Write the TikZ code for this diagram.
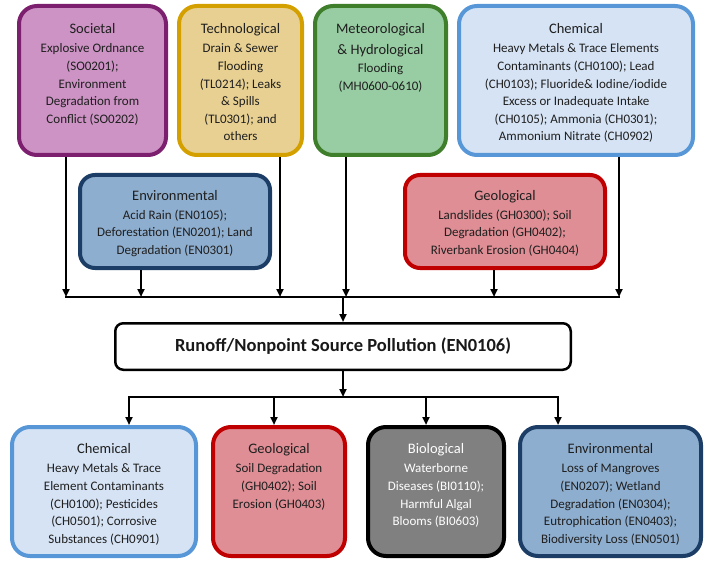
\documentclass[tikz,border=0pt]{standalone}
\usepackage{fontspec}
\setmainfont{Carlito}
\usepackage{tikz}
\usetikzlibrary{positioning, arrows.meta}

\definecolor{socfill}{HTML}{CC93C4}
\definecolor{socline}{HTML}{7D1F6F}
\definecolor{techfill}{HTML}{E8D092}
\definecolor{techline}{HTML}{D4A000}
\definecolor{metfill}{HTML}{98CCA2}
\definecolor{metline}{HTML}{3F7E2A}
\definecolor{chemfill}{HTML}{D5E3F4}
\definecolor{chemline}{HTML}{5797D7}
\definecolor{envfill}{HTML}{8EAECF}
\definecolor{envline}{HTML}{1C3E66}
\definecolor{geofill}{HTML}{DE8E94}
\definecolor{geoline}{HTML}{C00000}
\definecolor{biofill}{HTML}{808080}

\newcommand{\grouphead}[1]{{\fontsize{14.5}{17.6}\selectfont #1}}

\begin{document}
\begin{tikzpicture}[
    x=1pt, y=-1pt,
    >={Triangle[length=8pt, width=7pt]},
    box/.style={
        rectangle,
        rounded corners=18pt,
        line width=4pt,
        inner sep=0pt
    },
    socbox/.style={box, draw=socline, fill=socfill},
    techbox/.style={box, draw=techline, fill=techfill},
    metbox/.style={box, draw=metline, fill=metfill},
    chembox/.style={box, draw=chemline, fill=chemfill},
    envbox/.style={box, draw=envline, fill=envfill},
    geobox/.style={box, draw=geoline, fill=geofill},
    biobox/.style={box, draw=black, fill=biofill},
    txt/.style={
        inner sep=0pt,
        align=center,
        text=black!88,
        font=\fontsize{13}{17.6}\selectfont
    },
    line/.style={line width=2pt, draw=black},
    arrow/.style={->, line/.try, line width=2pt}
]
\useasboundingbox (0,0) rectangle (714,564);

% top row
\node[socbox, minimum width=147pt, minimum height=149pt] (soc) at (92.5,80.5) {};
\node[txt, below=19.5pt of soc.north] (soc-t) {\grouphead{Societal}\\[1.5pt]
    Explosive Ordnance\\ (SO0201);\\ Environment\\ Degradation from\\ Conflict (SO0202)};

\node[techbox, minimum width=123pt, minimum height=149pt] (tech) at (240.5,80.5) {};
\node[txt, below=19.5pt of tech.north] (tech-t) {\grouphead{Technological}\\[1.5pt]
    Drain \& Sewer\\ Flooding\\ (TL0214); Leaks\\ \& Spills\\ (TL0301); and\\ others};

\node[metbox, minimum width=131pt, minimum height=149pt] (met) at (380.5,80.5) {};
\node[txt, below=19.5pt of met.north] (met-t) {\grouphead{Meteorological}\\[3pt]
    \grouphead{\& Hydrological}\\[1pt] Flooding\\ (MH0600-0610)};

\node[chembox, minimum width=234pt, minimum height=149pt] (chemtop) at (576,80.5) {};
\node[txt, below=19.5pt of chemtop.north] (chemtop-t) {\grouphead{Chemical}\\[1.5pt]
    Heavy Metals \& Trace Elements\\ Contaminants (CH0100); Lead\\
    (CH0103); Fluoride\& Iodine/iodide\\ Excess or Inadequate Intake\\
    (CH0105); Ammonia (CH0301);\\ Ammonium Nitrate (CH0902)};

% middle row
\node[envbox, rounded corners=15pt, minimum width=190pt, minimum height=93pt] (envmid) at (175,221.5) {};
\node[txt, below=17.5pt of envmid.north] (envmid-t) {\grouphead{Environmental}\\[1pt]
    Acid Rain (EN0105);\\ Deforestation (EN0201); Land\\ Degradation (EN0301)};

\node[geobox, rounded corners=15pt, minimum width=200pt, minimum height=93pt] (geomid) at (505,221.5) {};
\node[txt, below=17.5pt of geomid.north] (geomid-t) {\grouphead{Geological}\\[1pt]
    Landslides (GH0300); Soil\\ Degradation (GH0402);\\ Riverbank Erosion (GH0404)};

% centre
\node[rectangle, rounded corners=8pt, draw=black, line width=2.5pt, fill=white,
      minimum width=455.5pt, minimum height=46.5pt,
      font=\fontsize{18.5}{22}\selectfont\bfseries, text=black!90] (runoff) at (343,346.5)
      {Runoff/Nonpoint Source Pollution (EN0106)};

% bottom row
\node[chembox, minimum width=184pt, minimum height=129pt] (chembot) at (104,491.5) {};
\node[txt, below=18.5pt of chembot.north] (chembot-t) {\grouphead{Chemical}\\[1.5pt]
    Heavy Metals \& Trace\\ Element Contaminants\\ (CH0100); Pesticides\\
    (CH0501); Corrosive\\ Substances (CH0901)};

\node[geobox, minimum width=132pt, minimum height=129pt] (geobot) at (279,491.5) {};
\node[txt, below=18.5pt of geobot.north] (geobot-t) {\grouphead{Geological}\\[1.5pt]
    Soil Degradation\\ (GH0402); Soil\\ Erosion (GH0403)};

\node[biobox, minimum width=136pt, minimum height=129pt] (bio) at (436,491.5) {};
\node[txt, text=white, below=18.5pt of bio.north] (bio-t) {\grouphead{Biological}\\[1.5pt]
    Waterborne\\ Diseases (BI0110);\\ Harmful Algal\\ Blooms (BI0603)};

\node[envbox, minimum width=181pt, minimum height=129pt] (envbot) at (610.5,491.5) {};
\node[txt, below=18.5pt of envbot.north] (envbot-t) {\grouphead{Environmental}\\[1.5pt]
    Loss of Mangroves\\ (EN0207); Wetland\\ Degradation (EN0304);\\
    Eutrophication (EN0403);\\ Biodiversity Loss (EN0501)};

% feet of the arrows on the two bars
\coordinate (t1) at (66,297);
\coordinate (t2) at (141,297);
\coordinate (t3) at (280,297);
\coordinate (t4) at (346,297);
\coordinate (t5) at (494,297);
\coordinate (t6) at (619,297);
\coordinate (b1) at (129,397);
\coordinate (b2) at (274,397);
\coordinate (b3) at (426,397);
\coordinate (b4) at (558,397);

\draw[arrow] (soc.south -| t1) -- (t1);
\draw[arrow] (envmid.south -| t2) -- (t2);
\draw[arrow] (tech.south -| t3) -- (t3);
\draw[arrow] (met.south -| t4) -- (t4);
\draw[arrow] (geomid.south -| t5) -- (t5);
\draw[arrow] (chemtop.south -| t6) -- (t6);
\draw[line] ([xshift=-1pt]t1) -- ([xshift=1pt]t6);
\draw[arrow] (runoff.north |- t1) -- (runoff.north);

\draw[arrow] (runoff.south) -- (runoff.south |- b1);
\draw[line] ([xshift=-1pt]b1) -- ([xshift=1pt]b4);
\draw[arrow] (b1) -- (b1 |- chembot.north);
\draw[arrow] (b2) -- (b2 |- geobot.north);
\draw[arrow] (b3) -- (b3 |- bio.north);
\draw[arrow] (b4) -- (b4 |- envbot.north);

\end{tikzpicture}
\end{document}
